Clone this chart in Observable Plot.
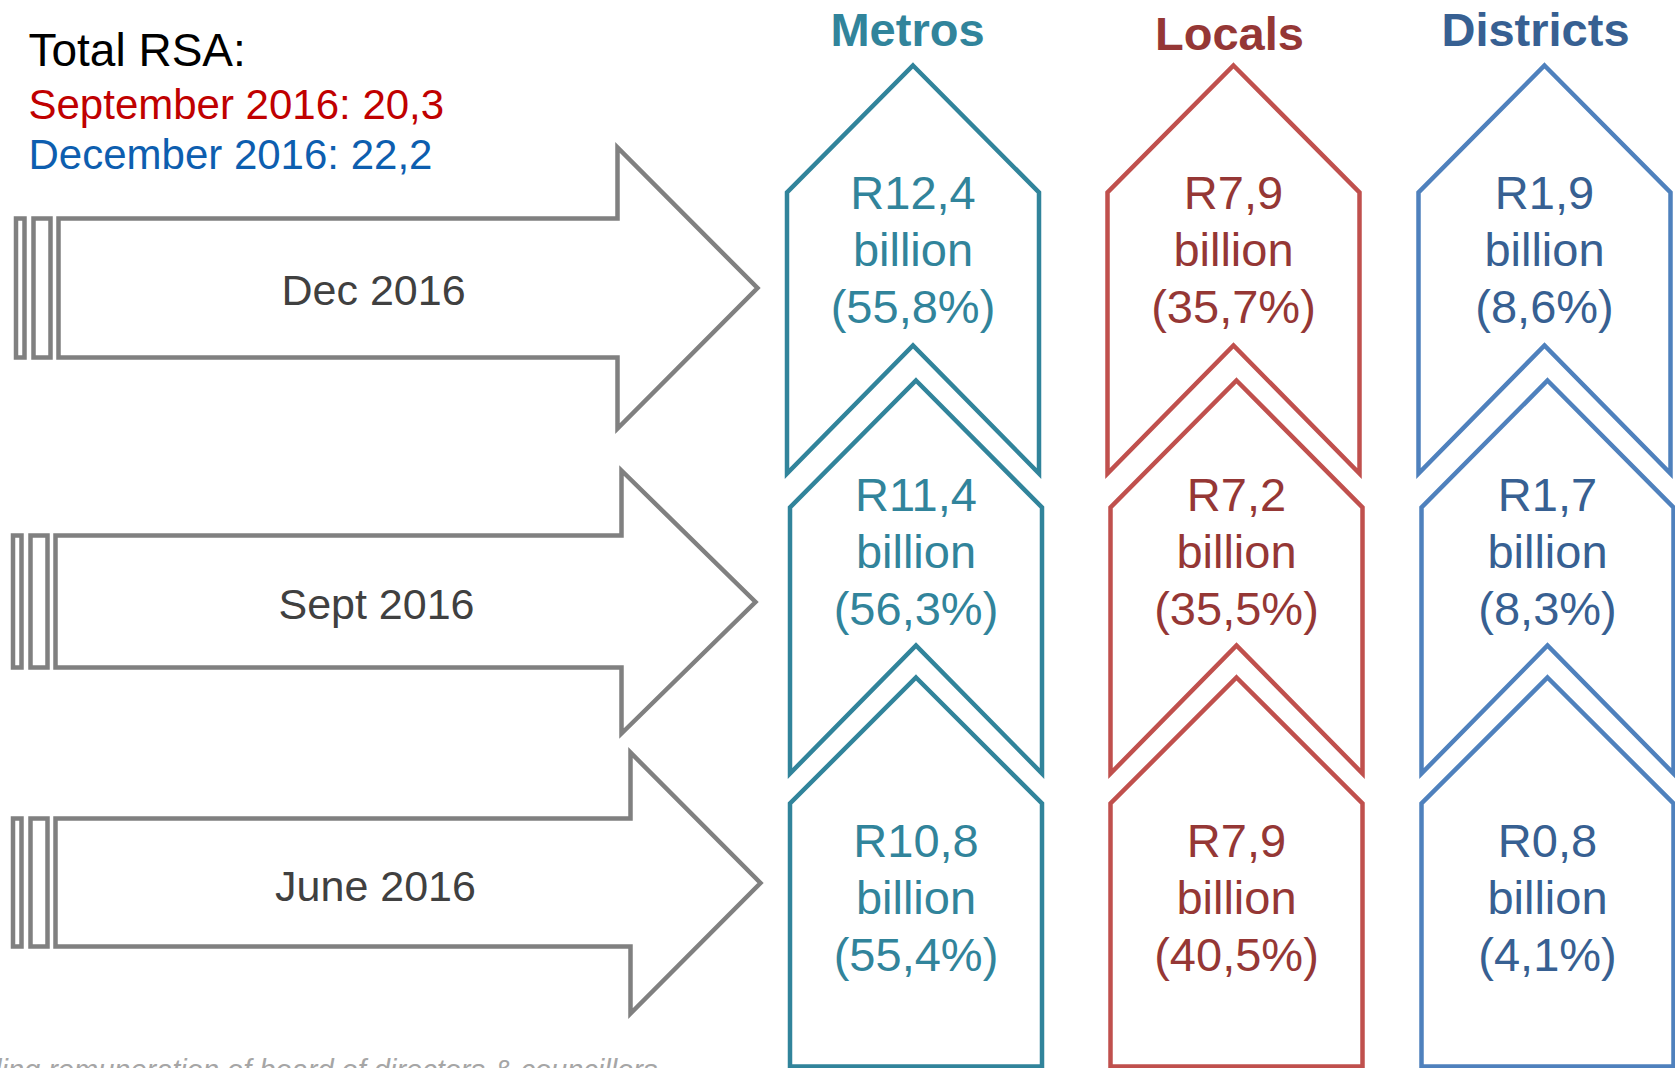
<!DOCTYPE html>
<html>
<head>
<meta charset="utf-8">
<script src="https://cdn.jsdelivr.net/npm/d3@7"></script>
<script src="https://cdn.jsdelivr.net/npm/@observablehq/plot@0.6"></script>
<style>
  html, body { margin: 0; padding: 0; background: #fff; overflow: hidden; }
  svg { display: block; }
</style>
</head>
<body>
<div id="chart"></div>
<script>
// ---------- data ----------
const periods = ["Dec 2016", "Sept 2016", "June 2016"];
const categories = ["Metros", "Locals", "Districts"];
const metrosBillion = [12.4, 11.4, 10.8];
const metrosShare = [55.8, 56.3, 55.4];
const localsBillion = [7.9, 7.2, 7.9];
const localsShare = [35.7, 35.5, 40.5];
const districtsBillion = [1.9, 1.7, 0.8];
const districtsShare = [8.6, 8.3, 4.1];
const totalTitle = "Total RSA:";
const totalPeriods = ["September 2016", "December 2016"];
const totalValues = [20.3, 22.2];
const footnote = "Excluding remuneration of board of directors & councillors";

// ---------- layout & style ----------
const W = 1675, H = 1068;
const FONT = "'Liberation Sans', Arial, Helvetica, sans-serif";
const strokeColors = ["#31849B", "#C0504D", "#4F81BD"];
const textColors = ["#31849B", "#953735", "#376092"];
const totalColors = ["#C00000", "#0D5EAF"];
const colCenter = [912.5, 1233, 1544];
const rowShift = [0, 3, 3];
const halfW = 126;
const rowApex = [65, 380, 677];
const rowShoulder = [192, 507, 803];
const rowBottom = [473, 773, 1066];
const rowNotch = [345, 645, null];
const rowTextBase = [208, 510, 856];
const lineGap = 57;
const valueFont = 47;
const headerX = [907, 1229, 1535];
const headerBase = [45, 49, 45];

// left arrows
const arrowBodyLeft = [58, 55, 55];
const arrowShaftTop = [218, 535, 818];
const arrowShaftBottom = [357, 667, 946];
const arrowShaftEnd = [617, 621, 630];
const arrowHeadTop = [147, 470, 752];
const arrowHeadBottom = [428, 733, 1013];
const arrowTip = [757, 755, 760];
const arrowLabelX = [373, 376, 375];
const arrowLabelBase = [304, 618, 900];

const fmt = v => d3.format(".1f")(v).replace(".", ",");

// ---------- build geometry ----------
const values = [
  {b: metrosBillion, s: metrosShare},
  {b: localsBillion, s: localsShare},
  {b: districtsBillion, s: districtsShare}
];

const shapePts = [];
const labels = [];
categories.forEach((cat, c) => {
  periods.forEach((p, r) => {
    const cx = colCenter[c] + rowShift[r];
    const id = cat + "-" + r;
    const col = strokeColors[c];
    const pts = [
      [cx, rowApex[r]],
      [cx + halfW, rowShoulder[r]],
      [cx + halfW, rowBottom[r]]
    ];
    if (rowNotch[r] != null) pts.push([cx, rowNotch[r]]);
    pts.push([cx - halfW, rowBottom[r]], [cx - halfW, rowShoulder[r]]);
    pts.forEach(([x, y]) => shapePts.push({id, x, y, col}));
    labels.push({
      x: cx,
      y: rowTextBase[r] + 2 * lineGap,
      text: `R${fmt(values[c].b[r])}\nbillion\n(${fmt(values[c].s[r])}%)`,
      col: textColors[c]
    });
  });
});

const arrowPts = [];
periods.forEach((p, r) => {
  const L = arrowBodyLeft[r], st = arrowShaftTop[r], sb = arrowShaftBottom[r];
  const se = arrowShaftEnd[r], ht = arrowHeadTop[r], hb = arrowHeadBottom[r];
  const tipY = (ht + hb) / 2;
  const body = [[L, st], [se, st], [se, ht], [arrowTip[r], tipY], [se, hb], [se, sb], [L, sb]];
  body.forEach(([x, y]) => arrowPts.push({id: "a" + r, x, y}));
  const bar2 = [L - 25, L - 8], bar1 = [L - 42.5, L - 34];
  [bar1, bar2].forEach(([x1, x2], k) => {
    [[x1, st], [x2, st], [x2, sb], [x1, sb]].forEach(([x, y]) =>
      arrowPts.push({id: "b" + r + "-" + k, x, y}));
  });
});

const topLines = [
  {text: totalTitle, y: 65, size: 46, col: "#000000"},
  {text: `${totalPeriods[0]}: ${fmt(totalValues[0])}`, y: 118, size: 42, col: totalColors[0]},
  {text: `${totalPeriods[1]}: ${fmt(totalValues[1])}`, y: 168, size: 42, col: totalColors[1]}
];

const chart = Plot.plot({
  width: W,
  height: H,
  margin: 0,
  x: {domain: [0, W], range: [0, W], axis: null},
  y: {domain: [0, H], range: [0, H], axis: null},
  color: {type: "identity"},
  style: {background: "#fff", fontFamily: FONT, overflow: "hidden"},
  marks: [
    // left grey arrows
    Plot.line(arrowPts, {
      x: "x", y: "y", z: "id", curve: "linear-closed",
      stroke: "#808080", strokeWidth: 4.5, strokeLinejoin: "miter", strokeMiterlimit: 10
    }),
    Plot.text(periods, {
      x: (d, i) => arrowLabelX[i], y: (d, i) => arrowLabelBase[i], text: d => d,
      lineAnchor: "bottom", fontSize: 43, fill: "#404040", fontFamily: FONT
    }),
    // category chevrons
    Plot.line(shapePts, {
      x: "x", y: "y", z: "id", stroke: "col", curve: "linear-closed",
      strokeWidth: 4.5, strokeLinejoin: "miter", strokeMiterlimit: 10
    }),
    Plot.text(labels, {
      x: "x", y: "y", text: "text", fill: "col",
      lineAnchor: "bottom", lineHeight: lineGap / valueFont,
      fontSize: valueFont, fontFamily: FONT
    }),
    // headers
    Plot.text(categories, {
      x: (d, i) => headerX[i], y: (d, i) => headerBase[i], text: d => d,
      fill: (d, i) => textColors[i], fontWeight: "bold", fontSize: 47,
      lineAnchor: "bottom", fontFamily: FONT
    }),
    // totals
    Plot.text(topLines, {
      x: 28, y: "y", text: "text", fill: "col", fontSize: "size",
      textAnchor: "start", lineAnchor: "bottom", fontFamily: FONT
    }),
    // footnote (cut off at the bottom edge as in the source)
    Plot.text([footnote], {
      x: 657, y: 1079, text: d => d, textAnchor: "end", lineAnchor: "bottom",
      fontStyle: "italic", fontSize: 29, fill: "#A6A6A6", fontFamily: FONT
    })
  ]
});

document.getElementById("chart").appendChild(chart);
</script>
</body>
</html>
